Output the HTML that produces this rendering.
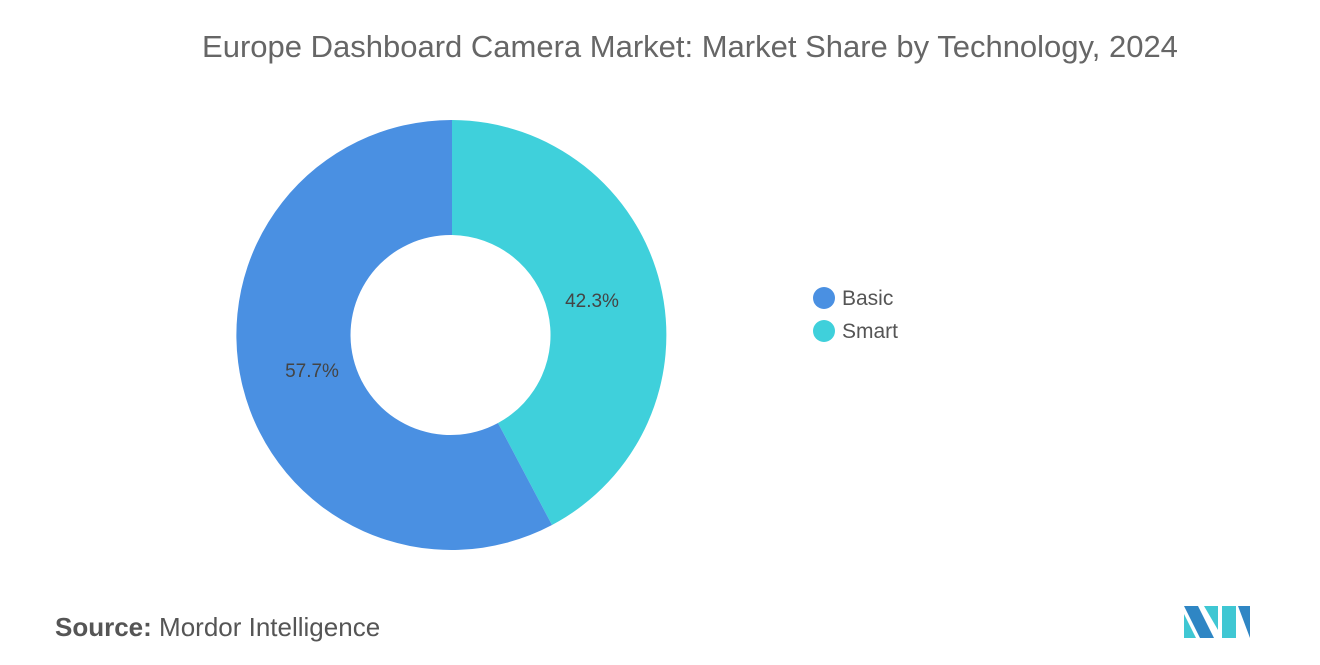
<!DOCTYPE html>
<html><head><meta charset="utf-8"><style>
html,body{margin:0;padding:0;background:#fff;}
body{width:1320px;height:665px;position:relative;overflow:hidden;font-family:"Liberation Sans",sans-serif;}
</style></head><body>
<div style="position:absolute;left:0;top:29px;width:1380px;text-align:center;font-size:31px;color:#666;">Europe Dashboard Camera Market: Market Share by Technology, 2024</div>
<svg width="1320" height="665" style="position:absolute;left:0;top:0">
<path d="M452,120 A215,215 0 0 1 552,525 L498,423 A100,100 0 0 0 452,235 Z" fill="#3fd0db"/>
<path d="M552,525 A215,215 0 1 1 452,120 L452,235 A100,100 0 1 0 498,423 Z" fill="#4a90e2"/>
<text x="592" y="307" font-size="19" fill="#444" text-anchor="middle" font-family="Liberation Sans">42.3%</text>
<text x="312" y="377" font-size="19" fill="#444" text-anchor="middle" font-family="Liberation Sans">57.7%</text>
<circle cx="824" cy="298" r="11" fill="#4a90e2"/>
<text x="842" y="305" font-size="21" fill="#555" font-family="Liberation Sans">Basic</text>
<circle cx="824" cy="331" r="11" fill="#3fd0db"/>
<text x="842" y="338" font-size="21" fill="#555" font-family="Liberation Sans">Smart</text>
<text x="55" y="636" font-size="26" fill="#555" font-family="Liberation Sans"><tspan font-weight="bold">Source:</tspan>  Mordor Intelligence</text>
<polygon points="1184,606 1198,606 1214,638 1200,638" fill="#2f86c4"/>
<polygon points="1184,614 1196,638 1184,638" fill="#3fc7d3"/>
<polygon points="1204,606 1218,606 1218,630" fill="#3fc7d3"/>
<polygon points="1222,606 1236,606 1236,638 1222,638" fill="#3fc7d3"/>
<polygon points="1238,606 1250,606 1250,638" fill="#2f86c4"/>
</svg>
</body></html>
